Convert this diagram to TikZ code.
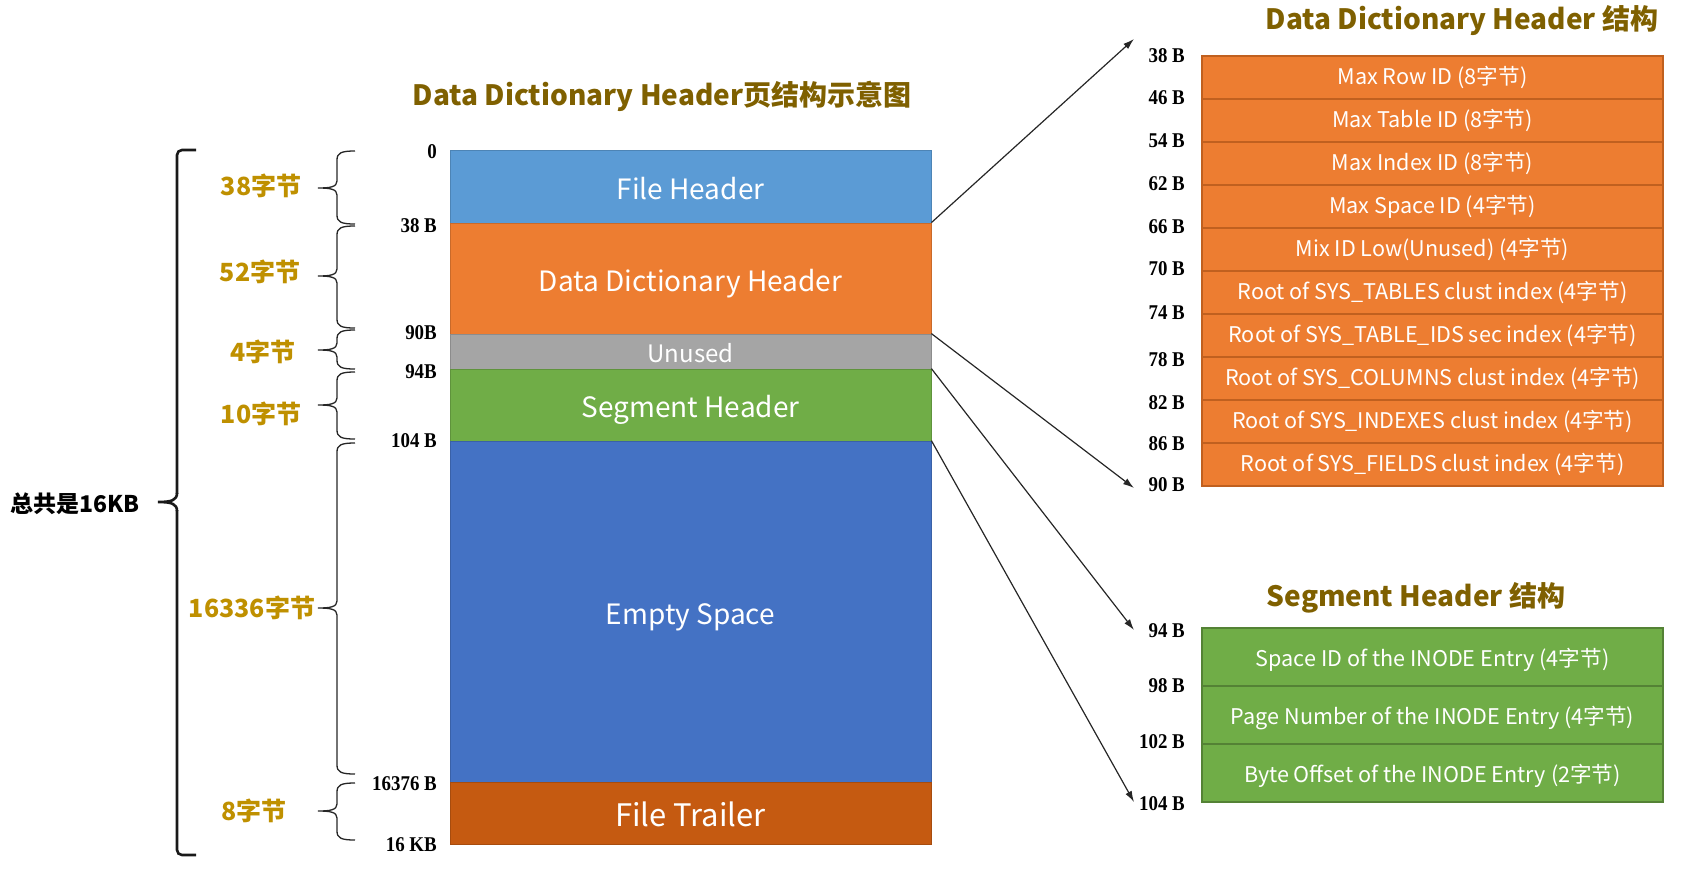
\documentclass[tikz,border=0pt]{standalone}
\usepackage{fontspec}
\setmainfont{Noto Sans CJK SC}
\newfontfamily\lblfont[FakeStretch=0.9]{Liberation Serif}
\usetikzlibrary{arrows.meta}
\definecolor{cblue}{HTML}{5B9BD5}
\definecolor{corange}{HTML}{ED7D31}
\definecolor{cgray}{HTML}{A5A5A5}
\definecolor{cgreen}{HTML}{70AD47}
\definecolor{cdblue}{HTML}{4472C4}
\definecolor{crust}{HTML}{C55A11}
\definecolor{ctitle}{HTML}{7F6000}
\definecolor{cgold}{HTML}{BF9000}
\definecolor{corline}{HTML}{C0601F}
\definecolor{cgrline}{HTML}{548235}
\newcommand\dbrace[3]{%
  \draw[bracestyle] (355,#1) .. controls (341,#1) and (337,{#1+2}) .. (337,{#1+9})
    -- (337,{#3-7}) .. controls (337,{#3-1}) and (330,#3) .. (318,#3)
    .. controls (330,#3) and (337,{#3+1}) .. (337,{#3+7})
    -- (337,{#2-9}) .. controls (337,{#2-2}) and (341,#2) .. (355,#2);}
\begin{document}
\begin{tikzpicture}[x=1pt,y=-1pt,
  seg/.style={minimum width=481pt, inner sep=0pt, draw=#1!85!black, line width=0.8pt, fill=#1, text=white, text height=25.5pt, text depth=0pt, font=\fontsize{28}{31}\selectfont},
  orow/.style={minimum width=461pt, minimum height=43pt, inner sep=0pt, fill=corange, draw=corline, line width=1.2pt, text=white, font=\fontsize{21.6}{24}\selectfont},
  grnrow/.style={minimum width=461pt, minimum height=58pt, inner sep=0pt, fill=cgreen, draw=cgrline, line width=1.2pt, text=white, text height=19.5pt, text depth=0pt, font=\fontsize{21.6}{24}\selectfont},
  blbl/.style={anchor=east, inner sep=0pt, font=\lblfont\bfseries\fontsize{21}{23}\selectfont},
  glbl/.style={inner sep=0pt, text=cgold, font=\bfseries\fontsize{25}{28}\selectfont},
  ttl/.style={inner sep=0pt, text=ctitle, font=\bfseries\fontsize{28}{32}\selectfont},
  arr/.style={-{Latex[length=11pt,width=7pt]}, line width=1.2pt, black!85},
  bracestyle/.style={line width=1.3pt, black!85}]
\useasboundingbox (0,0) rectangle (1682,892);

% main title
\node[ttl] (mtitle) at (662,96) {Data Dictionary Header页结构示意图};

% main column
\node[seg=cblue, minimum height=73pt] (fh) at (690.5,186.5) {File Header};
\node[seg=corange, minimum height=111pt] (dd) at (690.5,278.5) {Data Dictionary Header};
\node[seg=cgray, minimum height=35pt, text height=21.7pt, font=\fontsize{24}{26}\selectfont] (un) at (690.5,351.5) {Unused};
\node[seg=cgreen, minimum height=72pt] (sh) at (690.5,405) {Segment Header};
\node[seg=cdblue, minimum height=341pt] (es) at (690.5,611.5) {Empty Space};
\node[seg=crust, minimum height=62pt, text height=27.3pt, font=\fontsize{31}{34}\selectfont] (ft) at (690.5,813) {File Trailer};

% offsets on left
\node[blbl] (l0) at (437,152) {0};
\node[blbl] (l38) at (437,226) {38 B};
\node[blbl] (l90) at (437,333) {90B};
\node[blbl] (l94) at (437,372) {94B};
\node[blbl] (l104) at (437,441) {104 B};
\node[blbl] (l16376) at (437,784) {16376 B};
\node[blbl] (l16k) at (437,845) {16 KB};

% braces
\dbrace{151}{224}{188}
\dbrace{226}{328}{276}
\dbrace{330}{369}{350}
\dbrace{372}{439}{405}
\dbrace{443}{774}{608}
\dbrace{783}{840}{811}

\node[glbl] (g38) at (261,186) {38字节};
\node[glbl] (g52) at (260,272) {52字节};
\node[glbl] (g4) at (263,352) {4字节};
\node[glbl] (g10) at (261,414) {10字节};
\node[glbl] (g16336) at (252,608) {16336字节};
\node[glbl] (g8) at (254,811) {8字节};

% big bracket
\draw[line width=2.6pt, black!90, rounded corners=5pt] (196,150) -- (177,150) -- (177,494);
\draw[line width=2.6pt, black!90] (177,493) .. controls (177,500) and (172,502) .. (158,502)
  .. controls (172,502) and (177,504) .. (177,511);
\draw[line width=2.6pt, black!90, rounded corners=5pt] (177,510) -- (177,855) -- (196,855);
\node[inner sep=0pt, anchor=east, font=\bfseries\fontsize{23}{26}\selectfont] (total) at (140,504) {总共是16KB};

% right titles
\node[ttl] (ddtitle) at (1462,21) {Data Dictionary Header 结构};
\node[ttl] (shtitle) at (1416,598) {Segment Header 结构};

% orange table
\node[orow] (r1) at (1432.5,77.5) {Max Row ID (8字节)};
\node[orow] (r2) at (1432.5,120.5) {Max Table ID (8字节)};
\node[orow] (r3) at (1432.5,163.5) {Max Index ID (8字节)};
\node[orow] (r4) at (1432.5,206.5) {Max Space ID (4字节)};
\node[orow] (r5) at (1432.5,249.5) {Mix ID Low(Unused) (4字节)};
\node[orow] (r6) at (1432.5,292.5) {Root of SYS\_TABLES clust index (4字节)};
\node[orow] (r7) at (1432.5,335.5) {Root of SYS\_TABLE\_IDS sec index (4字节)};
\node[orow] (r8) at (1432.5,378.5) {Root of SYS\_COLUMNS clust index (4字节)};
\node[orow] (r9) at (1432.5,421.5) {Root of SYS\_INDEXES clust index (4字节)};
\node[orow] (r10) at (1432.5,464.5) {Root of SYS\_FIELDS clust index (4字节)};

\node[blbl] (o38) at (1185,56) {38 B};
\node[blbl] (o46) at (1185,98) {46 B};
\node[blbl] (o54) at (1185,141) {54 B};
\node[blbl] (o62) at (1185,184) {62 B};
\node[blbl] (o66) at (1185,227) {66 B};
\node[blbl] (o70) at (1185,269) {70 B};
\node[blbl] (o74) at (1185,313) {74 B};
\node[blbl] (o78) at (1185,360) {78 B};
\node[blbl] (o82) at (1185,403) {82 B};
\node[blbl] (o86) at (1185,444) {86 B};
\node[blbl] (o90) at (1185,485) {90 B};

% green table
\node[grnrow] (s1) at (1432.5,657) {Space ID of the INODE Entry (4字节)};
\node[grnrow] (s2) at (1432.5,715) {Page Number of the INODE Entry (4字节)};
\node[grnrow] (s3) at (1432.5,773) {Byte Offset of the INODE Entry (2字节)};

\node[blbl] (g94) at (1185,631) {94 B};
\node[blbl] (g98) at (1185,686) {98 B};
\node[blbl] (g102) at (1185,742) {102 B};
\node[blbl] (g104) at (1185,804) {104 B};

% arrows
\coordinate (e1) at (1134,39);
\coordinate (e2) at (1134,488);
\coordinate (e3) at (1134,630);
\coordinate (e4) at (1134,802);
\draw[arr] (dd.north east) -- (e1);
\draw[arr] (un.north east) -- (e2);
\draw[arr] (sh.north east) -- (e3);
\draw[arr] (es.north east) -- (e4);
\end{tikzpicture}
\end{document}
